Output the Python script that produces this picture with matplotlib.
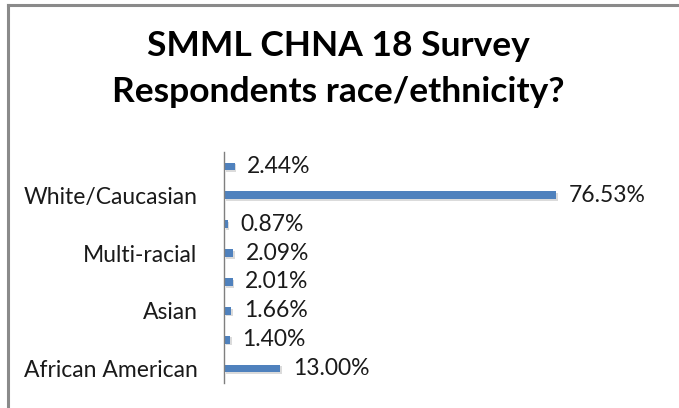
import matplotlib
matplotlib.use("Agg")
import matplotlib.pyplot as plt
import matplotlib.patheffects as pe
from matplotlib.lines import Line2D

# Data (bottom to top); Excel only shows every other category label
categories = ["African American", "", "Asian", "", "Multi-racial", "", "White/Caucasian", ""]
values = [13.00, 1.40, 1.66, 2.01, 2.09, 0.87, 76.53, 2.44]

title = "SMML CHNA 18 Survey\nRespondents race/ethnicity?"

plt.rcParams['font.family'] = ['Lato', 'DejaVu Sans']

W, H = 679, 408
fig = plt.figure(figsize=(W / 100, H / 100), dpi=100)

# axes placed in pixel coordinates
ax = fig.add_axes([224 / W, 25 / H, 391 / W, 231 / H])
ypos = list(range(len(values)))
bars = ax.barh(ypos, values, height=0.27, color="#4F81BD", edgecolor="none")
for b in bars:
    b.set_path_effects([pe.SimplePatchShadow(offset=(1.2, -1.2), shadow_rgbFace="#999999", alpha=0.35),
                        pe.Normal()])

for y, v in zip(ypos, values):
    ax.annotate(f"{v:.2f}%", (v, y), xytext=(9, 0), textcoords="offset points",
                va="center", ha="left", fontsize=16.5, color="#1a1a1a")

ax.set_xlim(0, 90)
ax.set_ylim(-0.5, len(values) - 0.5)
ax.set_yticks(ypos)
ax.set_yticklabels(categories, fontsize=16.5, color="#1a1a1a")
ax.tick_params(axis="y", length=0, pad=19)
ax.set_xticks([])
for s in ["top", "right", "bottom"]:
    ax.spines[s].set_visible(False)
ax.spines["left"].set_color("#7f7f7f")
ax.spines["left"].set_linewidth(1)

fig.text(338 / W, 1 - 69 / H, title, ha="center", va="center", fontsize=25.5,
         fontweight="bold", linespacing=1.55, color="black")

# outer chart frame (top and left edges visible)
fig.add_artist(Line2D([7.5 / W, 1], [1 - 5 / H, 1 - 5 / H], transform=fig.transFigure,
                      color="#8a8a8a", lw=2.2))
fig.add_artist(Line2D([7.5 / W, 7.5 / W], [0, 1 - 5 / H], transform=fig.transFigure,
                      color="#8a8a8a", lw=2.2))

fig.savefig("out.png", dpi=100)
